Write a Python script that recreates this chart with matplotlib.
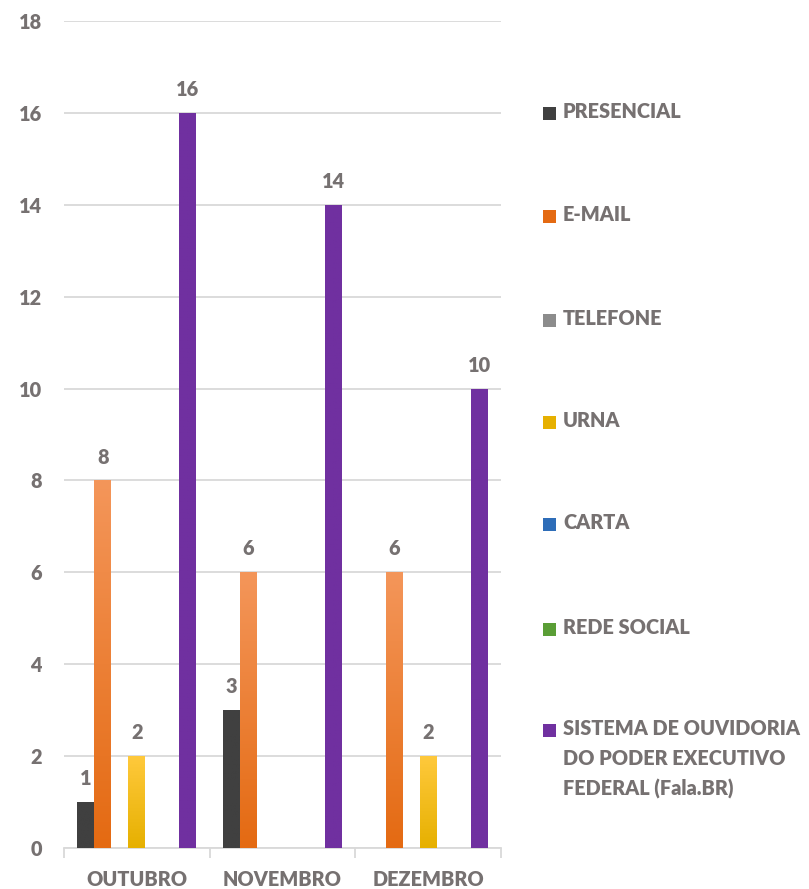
import numpy as np
import matplotlib
matplotlib.use("Agg")
import matplotlib.pyplot as plt
from matplotlib.patches import Rectangle
from matplotlib.colors import LinearSegmentedColormap

categories = ["OUTUBRO", "NOVEMBRO", "DEZEMBRO"]
series = ["PRESENCIAL", "E-MAIL", "TELEFONE", "URNA", "CARTA", "REDE SOCIAL",
          "SISTEMA DE OUVIDORIA\nDO PODER EXECUTIVO\nFEDERAL (Fala.BR)"]
presencial = [1, 3, 0]
email = [8, 6, 6]
telefone = [0, 0, 0]
urna = [2, 0, 2]
carta = [0, 0, 0]
rede_social = [0, 0, 0]
sistema = [16, 14, 10]
values = [presencial, email, telefone, urna, carta, rede_social, sistema]

# (top colour, bottom colour)
colors = [("#404040", "#404040"), ("#F4965A", "#E46A12"), ("#B0B0B0", "#8C8C8C"),
          ("#FFC93C", "#E6B000"), ("#4F8FD8", "#2E6DB8"), ("#7DC15A", "#5A9E36"),
          ("#7030A0", "#7030A0")]

TXT = "#767171"
FONT = "Lato"
W = "heavy"
FS = 14.3
plt.rcParams["font.family"] = [FONT, "DejaVu Sans"]

fig = plt.figure(figsize=(8.09, 8.89), dpi=100)
ax = fig.add_axes([64/809, 1-848/889, (501-64)/809, (848-21)/889])

n = len(series)
bw = 0.815 / n
x = np.arange(len(categories))
for i, (vals, (ctop, cbot)) in enumerate(zip(values, colors)):
    pos = x - 0.815/2 + bw*(i+0.5)
    bars = ax.bar(pos, vals, width=bw, color=cbot, linewidth=0, zorder=3)
    cmap = LinearSegmentedColormap.from_list("g%d" % i, [cbot, ctop])
    grad = np.linspace(0, 1, 256).reshape(-1, 1)
    for b, v in zip(bars, vals):
        if v <= 0:
            continue
        bx, by = b.get_x(), b.get_y()
        im = ax.imshow(grad, cmap=cmap, aspect="auto", origin="lower",
                       extent=[bx, bx + b.get_width(), by, by + v], zorder=4)
        im.set_clip_path(b)
        ax.annotate(str(v), (b.get_x() + b.get_width()/2, v), xytext=(0, 10),
                    textcoords="offset points", ha="center", va="bottom",
                    fontsize=FS, fontweight=W, color=TXT, zorder=5)

ax.set_xlim(-0.5, len(categories) - 0.5)
ax.set_ylim(0, 18)
ax.set_yticks(np.arange(0, 19, 2))
ax.set_yticklabels([str(v) for v in range(0, 19, 2)])
ax.grid(axis="y", color="#D9D9D9", linewidth=1.3, zorder=0)
ax.set_axisbelow(True)
for s in ["top", "right", "left"]:
    ax.spines[s].set_visible(False)
ax.spines["bottom"].set_color("#D9D9D9")
ax.spines["bottom"].set_linewidth(1.3)
ax.tick_params(axis="y", length=0, pad=16, labelsize=FS, labelcolor=TXT)
ax.set_xticks(x)
ax.set_xticklabels(categories)
ax.tick_params(axis="x", length=0, pad=16, labelsize=FS, labelcolor=TXT)
# category boundary tick marks
ax.set_xticks(np.arange(-0.5, len(categories)), minor=True)
ax.tick_params(axis="x", which="minor", length=7, width=1.3, color="#D9D9D9")
for lab in ax.get_xticklabels() + ax.get_yticklabels():
    lab.set_fontweight(W)

# legend
leg_y = [113, 216, 320, 422, 524, 629, 730]
for (name, (ctop, cbot), yy) in zip(series, colors, leg_y):
    fy = 1 - yy/889
    fig.patches.append(Rectangle((543/809, fy - 6.5/889), 13/809, 13/889,
                                 transform=fig.transFigure, facecolor=cbot,
                                 edgecolor="none"))
    fig.text(563/809, fy + 11/889, name, ha="left", va="top", fontsize=FS,
             fontweight=W, color=TXT, linespacing=1.68)

fig.savefig("out.png", dpi=100)
